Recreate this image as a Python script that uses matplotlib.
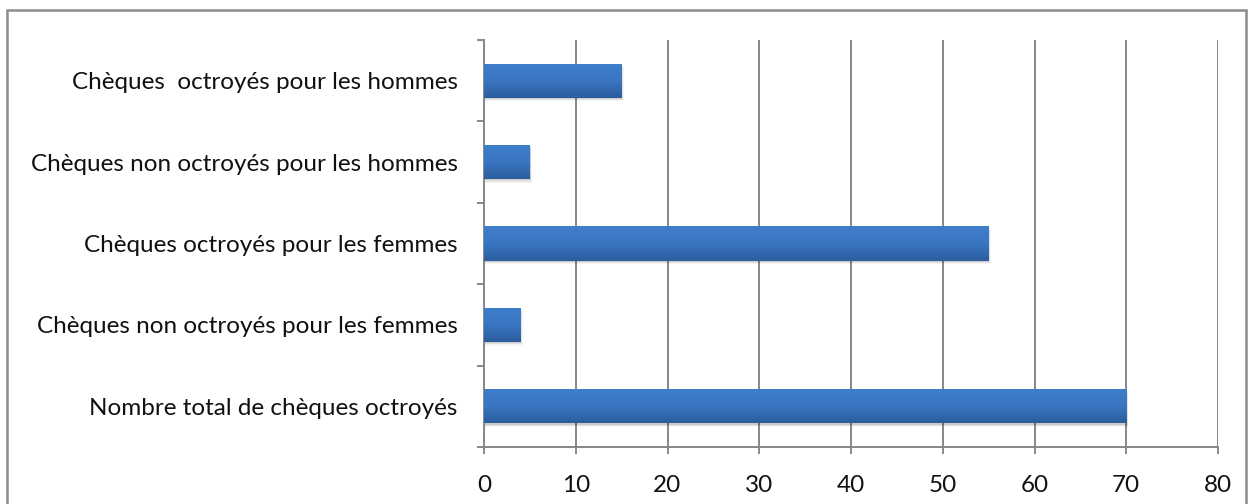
import numpy as np
import matplotlib
matplotlib.use("Agg")
import matplotlib.pyplot as plt
from matplotlib.patches import Rectangle
from matplotlib.colors import LinearSegmentedColormap
from matplotlib.ticker import FixedLocator

categories = [
    "Nombre total de chèques octroyés",
    "Chèques non octroyés pour les femmes",
    "Chèques octroyés pour les femmes",
    "Chèques non octroyés pour les hommes",
    "Chèques  octroyés pour les hommes",
]
values = [70, 4, 55, 5, 15]
x_ticks = [0, 10, 20, 30, 40, 50, 60, 70, 80]

plt.rcParams['font.family'] = ['Lato', 'DejaVu Sans']

fig = plt.figure(figsize=(12.49, 5.04), dpi=100)
W, H = 1249, 504

# outer chart frame
fig.patches.append(Rectangle((7 / W, -0.05), (1246 - 7) / W, 1.05 - 10 / H,
                             transform=fig.transFigure, fill=False,
                             edgecolor="#8c8c8c", linewidth=1.8))

ax = fig.add_axes([484 / W, 1 - 447 / H, (1218 - 484) / W, (447 - 40) / H])
ax.set_xlim(0, 80)
ax.set_ylim(-0.5, len(categories) - 0.5)

grid_c = "#878787"
ax.xaxis.set_major_locator(FixedLocator(x_ticks))
ax.grid(axis="x", color=grid_c, linewidth=1.4)
ax.set_axisbelow(True)
for s in ("top", "right"):
    ax.spines[s].set_visible(False)
for s in ("left", "bottom"):
    ax.spines[s].set_color(grid_c)
    ax.spines[s].set_linewidth(1.4)

ypos = np.arange(len(categories))
bar_h = 0.42
cmap = LinearSegmentedColormap.from_list("bar", ["#2c5d9c", "#3a76c2", "#3e7ecb"])
grad = np.linspace(0, 1, 256).reshape(-1, 1)
for y, v in zip(ypos, values):
    # soft drop shadow
    for k, a in enumerate([0.10, 0.07, 0.04]):
        d = 0.012 * (k + 1)
        ax.add_patch(Rectangle((0, y - bar_h / 2 - d * 1.2), v + d * 6, bar_h,
                               facecolor="#000000", alpha=a, edgecolor="none", zorder=2))
    bar = ax.barh(y, v, height=bar_h, color="#3670b8", zorder=3)[0]
    im = ax.imshow(grad, cmap=cmap, aspect="auto", origin="lower",
                   extent=[0, v, y - bar_h / 2, y + bar_h / 2], zorder=4)
    im.set_clip_path(bar)
ax.set_xlim(0, 80)
ax.set_ylim(-0.5, len(categories) - 0.5)

ax.set_yticks(ypos)
ax.set_yticklabels(categories)
ax.yaxis.set_minor_locator(FixedLocator(np.arange(-0.5, len(categories), 1.0)))
ax.tick_params(axis="y", which="major", length=0, pad=19, labelsize=17.5, labelcolor="#111111")
ax.tick_params(axis="y", which="minor", length=5, width=1.4, color=grid_c)
ax.tick_params(axis="x", length=5, width=1.4, color=grid_c, pad=15, labelsize=17.5, labelcolor="#111111")

fig.savefig("out.png", dpi=100, facecolor="white")
